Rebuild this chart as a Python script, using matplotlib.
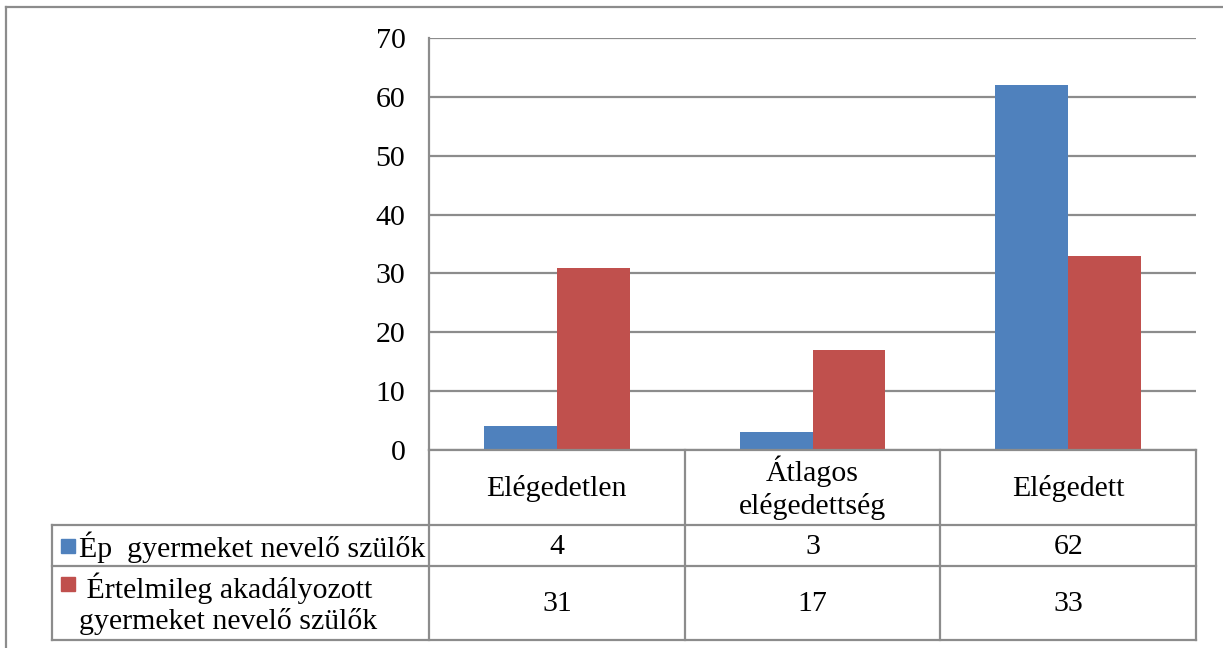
import matplotlib
matplotlib.use("Agg")
import matplotlib.pyplot as plt
import numpy as np
from matplotlib.lines import Line2D
from matplotlib.patches import Rectangle
from matplotlib.transforms import blended_transform_factory

categories = ["Elégedetlen", "Átlagos\nelégedettség", "Elégedett"]
series_names = ["Ép  gyermeket nevelő szülők", " Értelmileg akadályozott\ngyermeket nevelő szülők"]
ep_values = [4, 3, 62]
ea_values = [31, 17, 33]
yticks = [0, 10, 20, 30, 40, 50, 60, 70]

colors = ["#4F81BD", "#C0504D"]
grid_c = "#8C8C8C"
W, H = 1223, 648

plt.rcParams['font.family'] = ['Liberation Serif', 'DejaVu Serif']
fig = plt.figure(figsize=(W / 100, H / 100), dpi=100)

def fx(px):
    return px / W

def fy(py):
    return 1 - py / H

ax_l, ax_r, ax_t, ax_b = 429, 1196, 38, 450
ax = fig.add_axes([fx(ax_l), fy(ax_b), fx(ax_r - ax_l), (ax_b - ax_t) / H])

fs = 21.5
x = np.arange(len(categories))
bw = 0.285
ax.bar(x - bw / 2, ep_values, bw, color=colors[0], zorder=3)
ax.bar(x + bw / 2, ea_values, bw, color=colors[1], zorder=3)
ax.set_xlim(-0.5, len(categories) - 0.5)
ax.set_ylim(0, 70)
ax.set_yticks(yticks)
ax.set_yticklabels([str(t) for t in yticks], fontsize=fs)
ax.tick_params(axis='y', length=0, pad=17)
ax.set_xticks([])
ax.grid(axis='y', color=grid_c, linewidth=1.6, zorder=0)
for s in ['top', 'right', 'bottom']:
    ax.spines[s].set_visible(False)
ax.spines['left'].set_color(grid_c)
ax.spines['left'].set_linewidth(1.6)

# Data table below
lw = 1.6
tl = 52
rows_y = [450, 525, 566, 640]
col_x = [429, 685, 940, 1196]

def hline(y, x0, x1):
    fig.add_artist(Line2D([fx(x0), fx(x1)], [fy(y), fy(y)], color=grid_c, lw=lw))

def vline(xp, y0, y1):
    fig.add_artist(Line2D([fx(xp), fx(xp)], [fy(y0), fy(y1)], color=grid_c, lw=lw))

hline(rows_y[0], col_x[0], col_x[-1])
for y in rows_y[1:]:
    hline(y, tl, col_x[-1])
for xp in col_x:
    vline(xp, rows_y[0], rows_y[-1])
vline(tl, rows_y[1], rows_y[-1])

tr = blended_transform_factory(ax.transData, fig.transFigure)
for i, c in enumerate(categories):
    fig.text(x[i], fy(488), c, transform=tr, ha='center', va='center',
             fontsize=fs, linespacing=1.3)
    fig.text(x[i], fy(547), str(ep_values[i]), transform=tr, ha='center', va='center', fontsize=fs)
    fig.text(x[i], fy(604), str(ea_values[i]), transform=tr, ha='center', va='center', fontsize=fs)

# legend keys in the table
fig.add_artist(Rectangle((fx(61), fy(553)), fx(14), 14 / H, color=colors[0]))
fig.add_artist(Rectangle((fx(61), fy(591)), fx(14), 14 / H, color=colors[1]))
fig.text(fx(79), fy(547), series_names[0], ha='left', va='center', fontsize=fs)
fig.text(fx(79), fy(604), series_names[1], ha='left', va='center', fontsize=fs,
         linespacing=1.2)

# outer frame
fig.add_artist(Line2D([fx(6), 1], [fy(7), fy(7)], color=grid_c, lw=lw))
fig.add_artist(Line2D([fx(6), fx(6)], [fy(7), 0], color=grid_c, lw=lw))

fig.savefig("out.png", dpi=100)
